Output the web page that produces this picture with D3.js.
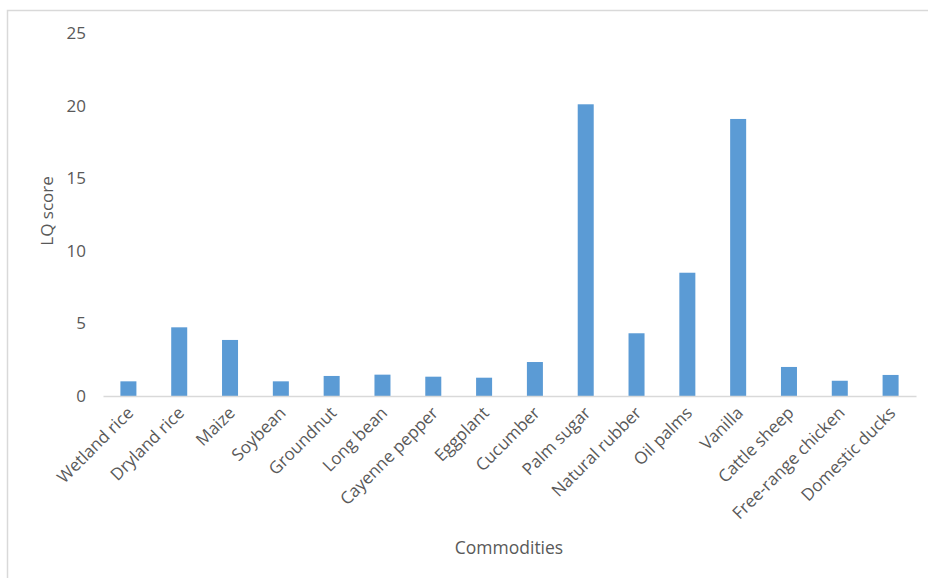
<!DOCTYPE html>
<html>
<head>
<meta charset="utf-8">
<script src="https://cdn.jsdelivr.net/npm/d3@7"></script>
<style>
  html, body { margin: 0; padding: 0; background: #fff; }
  svg { display: block; }
  text { font-family: "Open Sans", "DejaVu Sans", sans-serif; fill: #595959; }
</style>
</head>
<body>
<svg id="chart" width="928" height="578"></svg>
<script>
const categories = ["Wetland rice", "Dryland rice", "Maize", "Soybean", "Groundnut", "Long bean",
  "Cayenne pepper", "Eggplant", "Cucumber", "Palm sugar", "Natural rubber", "Oil palms",
  "Vanilla", "Cattle sheep", "Free-range chicken", "Domestic ducks"];
const lqScores = [1.01, 4.73, 3.86, 1.01, 1.38, 1.47, 1.33, 1.26, 2.34, 20.09, 4.32, 8.49,
  19.08, 2.0, 1.05, 1.45];
const yTicks = [0, 5, 10, 15, 20, 25];
const xTitle = "Commodities";
const yTitle = "LQ score";

const svg = d3.select("#chart");
const margin = { left: 103, right: 12, top: 33, bottom: 182 };
const W = 928, H = 578;

// frame
svg.append("rect")
  .attr("x", 7.5).attr("y", 10.5)
  .attr("width", W + 10).attr("height", H + 10)
  .attr("fill", "none").attr("stroke", "#d9d9d9").attr("stroke-width", 1.5);

const x = d3.scaleBand()
  .domain(categories)
  .range([margin.left, W - margin.right])
  .paddingInner(0.685).paddingOuter(0.3425);

const y = d3.scaleLinear().domain([0, 25]).range([396, 33]);

// bars
svg.append("g").selectAll("rect")
  .data(categories.map((c, i) => ({ c, v: lqScores[i] })))
  .join("rect")
  .attr("x", d => x(d.c))
  .attr("width", x.bandwidth())
  .attr("y", d => y(d.v))
  .attr("height", d => y(0) - y(d.v))
  .attr("fill", "#5b9bd5");

// x axis
const xAxis = svg.append("g")
  .attr("transform", `translate(0,${y(0)})`)
  .call(d3.axisBottom(x).tickSize(0).tickSizeOuter(0));
xAxis.select(".domain").attr("stroke", "#d9d9d9").attr("stroke-width", 1.3);
xAxis.selectAll(".tick text")
  .attr("font-size", 17)
  .attr("text-anchor", "end")
  .attr("dy", null).attr("y", 0)
  .attr("transform", "translate(6,18) rotate(-45)")
  .style("fill", "#595959");

// y axis
const yAxis = svg.append("g")
  .attr("transform", `translate(${margin.left},0)`)
  .call(d3.axisLeft(y).tickValues(yTicks).tickSize(0).tickPadding(17));
yAxis.select(".domain").remove();
yAxis.selectAll(".tick text")
  .attr("font-size", 17)
  .style("fill", "#595959");

// titles
svg.append("text")
  .attr("x", 509).attr("y", 554)
  .attr("text-anchor", "middle")
  .attr("font-size", 17.5)
  .text(xTitle);

svg.append("text")
  .attr("transform", "translate(53,211) rotate(-90)")
  .attr("text-anchor", "middle")
  .attr("font-size", 17)
  .text(yTitle);
</script>
</body>
</html>
